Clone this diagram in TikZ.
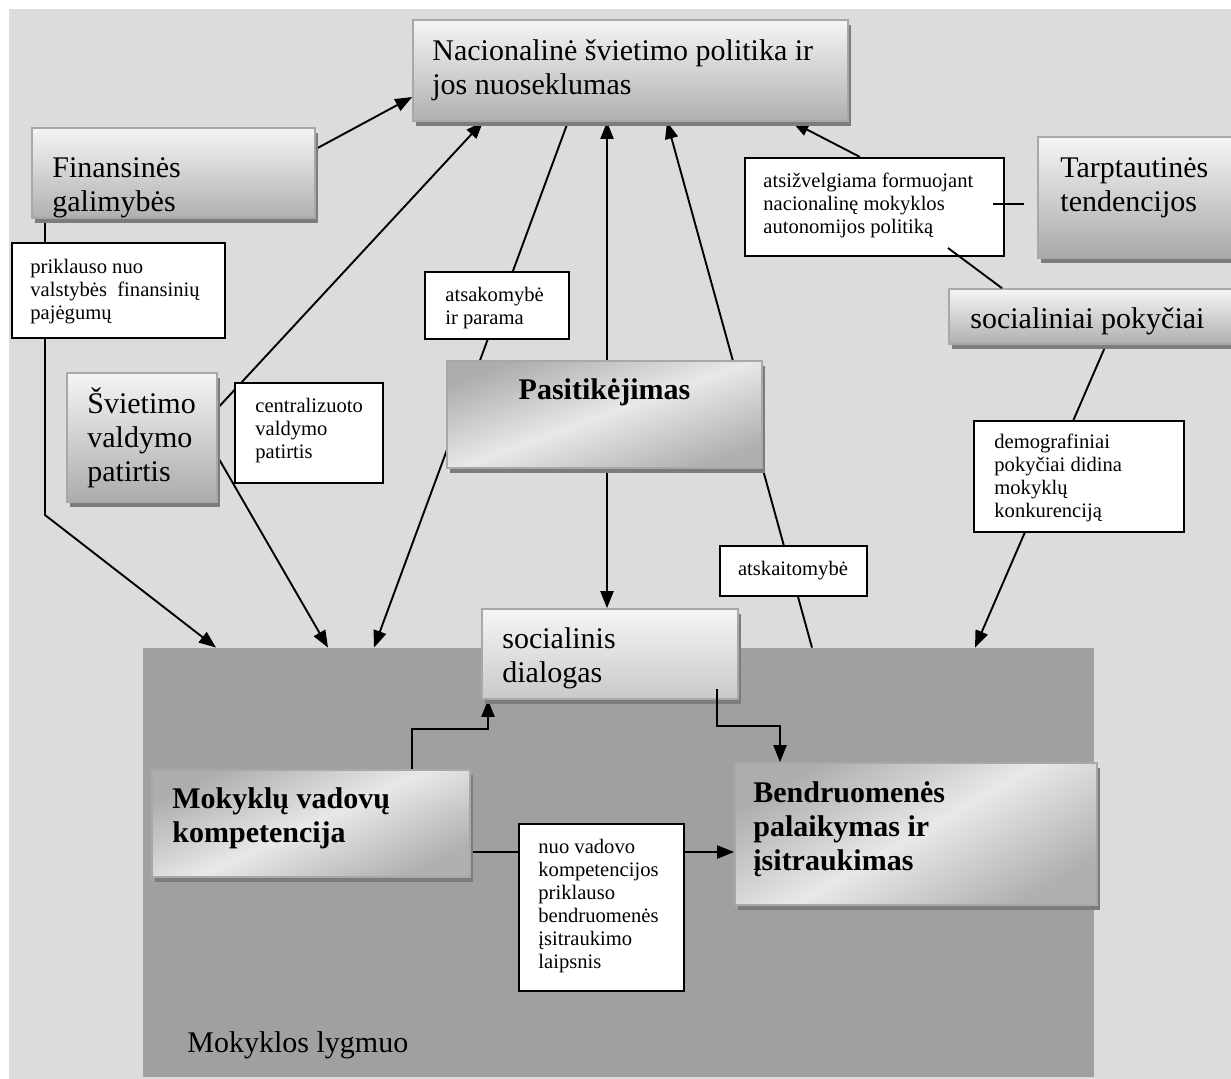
\documentclass[tikz,border=0pt]{standalone}
\usepackage{fontspec}
\setmainfont{Liberation Serif}
\usetikzlibrary{arrows.meta,shadows,fit}
\definecolor{bgc}{HTML}{DCDCDC}
\definecolor{lvlc}{HTML}{A0A0A0}
\definecolor{edgec}{HTML}{A8A8A8}
\definecolor{shc}{HTML}{7C7C7C}
\pgfdeclarelayer{back}
\pgfdeclarelayer{lines}
\pgfsetlayers{back,lines,main}
\tikzset{
  gbox/.style={draw=edgec, line width=0.8pt, inner sep=0pt,
    drop shadow={shadow xshift=1.5pt, shadow yshift=-2.5pt, fill=shc, opacity=1}},
  vgrad/.style={gbox, top color=gray!8, bottom color=#1},
  vgrad/.default={gray!62},
  dgrad/.style={gbox, top color=gray!64, bottom color=gray!62, middle color=gray!18, shading angle=#1},
  wbox/.style={draw=black, fill=white, line width=1pt, inner sep=0pt},
  bigtxt/.style={font=\fontsize{15}{17}\selectfont, align=left, inner sep=0pt, anchor=north west},
  boldtxt/.style={bigtxt, font=\fontsize{15}{17}\selectfont\bfseries},
  smtxt/.style={font=\fontsize{10.3}{11.5}\selectfont, align=left, inner sep=0pt, anchor=north west},
  conn/.style={line width=0.95pt},
  arr/.style={conn, -{Triangle[length=8.5pt,width=6.5pt]}},
}
\begin{document}
\begin{tikzpicture}[x=0.5pt, y=-0.5pt]
\clip (0,0) rectangle (1231,1079);
\begin{pgfonlayer}{back}
  \fill[white] (0,0) rectangle (1231,1079);
  \fill[bgc] (9,9) rectangle (1231,1079);
  \node[fill=lvlc, inner sep=0pt, fit={(143,648) (1094,1077)}] (lvl) {};
\end{pgfonlayer}

% gradient boxes
\node[vgrad, fit={(413,20) (848,121)}] (nac) {};
\node[vgrad, fit={(32,128) (315,218)}] (fin) {};
\node[vgrad=gray!68, fit={(1038,137) (1245,258)}] (tarp) {};
\node[vgrad, fit={(949,289) (1245,344)}] (socp) {};
\node[vgrad=gray!66, fit={(67,373) (217,502)}] (svi) {};
\node[dgrad=20, fit={(447,361) (762,468)}] (pas) {};
\node[vgrad=gray!42, fit={(482,609) (738,699)}] (dia) {};
\node[dgrad=25, fit={(152,770) (470,877)}] (mok) {};
\node[dgrad=30, fit={(735,763) (1097,905)}] (ben) {};

% label boxes
\node[wbox, fit={(12,243) (225,338)}] (prik) {};
\node[wbox, fit={(425,272) (569,339)}] (ats) {};
\node[wbox, fit={(235,383) (383,483)}] (cen) {};
\node[wbox, fit={(745,158) (1004,256)}] (atsiz) {};
\node[wbox, fit={(974,421) (1184,532)}] (demo) {};
\node[wbox, fit={(720,546) (867,596)}] (atsk) {};
\node[wbox, fit={(519,824) (684,991)}] (nuo) {};

% texts
\node[bigtxt] (nact) at (432,36) {\strut Nacionalinė švietimo politika ir\\jos nuoseklumas};
\node[bigtxt] (fint) at (52,153) {\strut Finansinės\\galimybės};
\node[bigtxt] (tarpt) at (1060,153) {\strut Tarptautinės\\tendencijos};
\node[bigtxt] (socpt) at (970,304) {\strut socialiniai pokyčiai};
\node[bigtxt] (svit) at (87,387) {\strut Švietimo\\valdymo\\patirtis};
\node[boldtxt, anchor=base] (past) at (604.5,400) {Pasitikėjimas};
\node[bigtxt] (diat) at (502,624) {\strut socialinis\\dialogas};
\node[boldtxt] (mokt) at (172,784) {\strut Mokyklų vadovų\\kompetencija};
\node[boldtxt] (bent) at (753,778) {\strut Bendruomenės\\palaikymas ir\\įsitraukimas};
\node[bigtxt, anchor=base west] (lvlt) at (187,1052) {Mokyklos lygmuo};

\node[smtxt] (prikt) at (30,257) {\strut priklauso nuo\\valstybės\ \ finansinių\\pajėgumų};
\node[smtxt] (atst) at (445,285) {\strut atsakomybė\\ir parama};
\node[smtxt] (cent) at (255,396) {\strut centralizuoto\\valdymo\\patirtis};
\node[smtxt] (atsizt) at (763,171) {\strut atsižvelgiama formuojant\\nacionalinę mokyklos\\autonomijos politiką};
\node[smtxt] (demot) at (994,432) {\strut demografiniai\\pokyčiai didina\\mokyklų\\konkurenciją};
\node[smtxt, anchor=base] (atskt) at (793,575) {atskaitomybė};
\node[smtxt] (nuot) at (538,837) {\strut nuo vadovo\\kompetencijos\\priklauso\\bendruomenės\\įsitraukimo\\laipsnis};

\coordinate (bendL) at (45,515);
\coordinate (atsizR) at (993,204);
\coordinate (atsizin) at (948,248);
\coordinate (dialin) at (717,689);
\coordinate (dbend) at (717,726);
\coordinate (mbend) at (412,729);

\begin{pgfonlayer}{lines}
  \draw[arr] (fin.east |- 0,149) -- (nac.west |- 0,97);
  \draw[arr] (svi.east |- 0,408) -- (483,0 |- nac.south);
  \draw[arr] (svi.east |- 0,457) -- (328,0 |- lvl.north);
  \draw[arr] (45,0 |- fin.south) -- (bendL) -- (216,0 |- lvl.north);
  \draw[arr] (568,0 |- nac.south) -- (374,0 |- lvl.north);
  \draw[arr] (607,0 |- pas.north) -- (607,0 |- nac.south);
  \draw[arr] (812,0 |- lvl.north) -- (667,0 |- nac.south);
  \draw[arr] (607,0 |- pas.south) -- (607,0 |- dia.north);
  \draw[arr] (860,0 |- atsiz.north) -- (792,0 |- nac.south);
  \draw[arr] (1106,0 |- socp.south) -- (975,0 |- lvl.north);
  \draw[arr] (412,0 |- mok.north) -- (mbend) -| (488,0 |- dia.south);
  \draw[arr] (mok.east |- 0,852) -- (ben.west |- 0,852);
\end{pgfonlayer}

\draw[conn, shorten <=6.5pt] (tarp.west |- 0,204) -- (atsizR);
\draw[conn] (1002,0 |- socp.north) -- (atsizin);
\draw[arr] (dialin) -- (dbend) -| (780,0 |- ben.north);
\end{tikzpicture}
\end{document}
